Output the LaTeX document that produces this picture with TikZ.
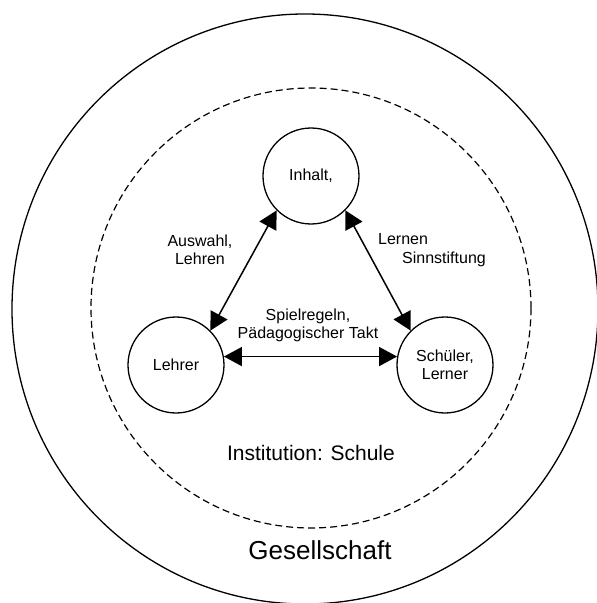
\documentclass[tikz,border=0pt]{standalone}
\usepackage{fontspec}
\setmainfont{Liberation Sans}
\usepackage{tikz}
\usetikzlibrary{arrows.meta,positioning}
\usepackage{xcolor}

\begin{document}
\begin{tikzpicture}[x=1pt,y=1pt,>={Triangle[length=18pt,width=19pt]},
  pole/.style={draw,circle,line width=1.3pt,minimum size=96pt,inner sep=0pt,
    align=center,font=\fontsize{16}{18.5}\selectfont},
  lbl/.style={inner sep=0pt,align=center,font=\fontsize{16}{18.5}\selectfont},
  link/.style={<->,line width=1.5pt}]
  \useasboundingbox (-311,-295) rectangle (286,308);
  \draw[line width=1.3pt] (-6,-1) ellipse (293 and 295);
  \draw[line width=1.2pt,dash pattern=on 7pt off 4pt] (0,0) circle (220);
  \node[pole] (inhalt) at (0,132) {Inhalt,};
  \node[pole] (lehrer) at (-135,-57) {Lehrer};
  \node[pole] (schueler) at (134,-57) {Schüler,\\Lerner};
  \draw[link] (inhalt.225) -- (lehrer.45);
  \draw[link] (inhalt.-45) -- (schueler.135);
  \draw[link] (lehrer.10) -- (schueler.170);
  \node[lbl] (auswahl) at (-111,58) {Auswahl,\\Lehren};
  \node[lbl,align=left,anchor=west] (lernen) at (67,58) {Lernen\\\hspace{24pt}Sinnstiftung};
  \node[lbl] (regeln) at (-3,-17.5) {Spielregeln,\\Pädagogischer Takt};
  \node[lbl,font=\fontsize{21}{25}\selectfont] (schule) at (0,-145) {Institution: Schule};
  \node[lbl,font=\fontsize{26}{30}\selectfont] (gesellschaft) at (9,-242) {Gesellschaft};
\end{tikzpicture}
\end{document}
